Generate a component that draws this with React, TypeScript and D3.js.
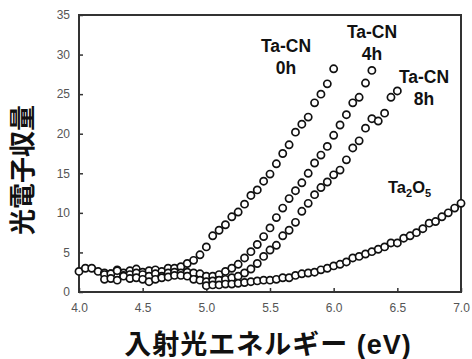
import React, { useEffect, useRef } from 'react';
import * as d3 from 'd3';

// [photon energy (eV), photoelectron yield]
const ta0h: [number, number][] = [
  [4.0, 2.6], [4.05, 3.0], [4.1, 3.0], [4.15, 2.6], [4.2, 2.4], [4.25, 2.3], [4.3, 2.8], [4.35, 2.4],
  [4.4, 2.7], [4.45, 2.9], [4.5, 2.5], [4.55, 2.7], [4.6, 2.8], [4.65, 2.6], [4.7, 3.0], [4.75, 3.0],
  [4.8, 3.2], [4.85, 3.6], [4.9, 4.0], [4.95, 4.7], [5.0, 5.7], [5.05, 7.1], [5.1, 7.8], [5.15, 8.5],
  [5.2, 9.5], [5.25, 10.1], [5.3, 11.1], [5.35, 12.2], [5.4, 12.9], [5.45, 14.0], [5.5, 14.9], [5.55, 16.2],
  [5.6, 17.5], [5.65, 18.6], [5.7, 20.2], [5.75, 21.2], [5.8, 22.1], [5.85, 23.9], [5.9, 25.0], [5.95, 26.3],
  [6.0, 28.2],
];

const ta4h: [number, number][] = [
  [4.2, 2.2], [4.25, 2.3], [4.3, 2.7], [4.35, 2.1], [4.4, 2.2], [4.45, 2.4], [4.5, 2.2], [4.55, 2.0],
  [4.6, 2.3], [4.65, 2.0], [4.7, 2.4], [4.75, 2.5], [4.8, 2.4], [4.85, 2.5], [4.9, 2.4], [4.95, 2.3],
  [5.0, 2.0], [5.05, 2.0], [5.1, 2.2], [5.15, 2.6], [5.2, 3.0], [5.25, 3.5], [5.3, 4.3], [5.35, 5.1],
  [5.4, 6.0], [5.45, 7.0], [5.5, 8.1], [5.55, 9.4], [5.6, 10.6], [5.65, 11.8], [5.7, 12.8], [5.75, 13.8],
  [5.8, 15.0], [5.85, 16.3], [5.9, 17.3], [5.95, 18.4], [6.0, 19.8], [6.05, 21.1], [6.1, 22.4], [6.15, 23.9],
  [6.2, 24.6], [6.25, 26.4], [6.3, 28.0],
];

const ta8h: [number, number][] = [
  [4.2, 1.6], [4.25, 1.7], [4.3, 1.5], [4.35, 2.0], [4.4, 1.7], [4.45, 1.8], [4.5, 1.6], [4.55, 1.3],
  [4.6, 1.6], [4.65, 1.8], [4.7, 1.9], [4.75, 2.1], [4.8, 2.1], [4.85, 2.0], [4.9, 1.6], [4.95, 1.5],
  [5.0, 1.3], [5.05, 1.4], [5.1, 1.5], [5.15, 1.6], [5.2, 1.8], [5.25, 2.0], [5.3, 2.4], [5.35, 2.9],
  [5.4, 3.6], [5.45, 4.5], [5.5, 5.3], [5.55, 5.9], [5.6, 7.1], [5.65, 7.8], [5.7, 8.8], [5.75, 10.2],
  [5.8, 11.2], [5.85, 12.3], [5.9, 13.2], [5.95, 13.9], [6.0, 14.8], [6.05, 15.4], [6.1, 16.7], [6.15, 18.2],
  [6.2, 19.1], [6.25, 20.7], [6.3, 21.9], [6.35, 21.6], [6.4, 22.6], [6.45, 24.6], [6.5, 25.4],
];

const ta2o5: [number, number][] = [
  [5.0, 0.8], [5.05, 0.9], [5.1, 0.9], [5.15, 1.0], [5.2, 1.0], [5.25, 1.1], [5.3, 1.2], [5.35, 1.3],
  [5.4, 1.4], [5.45, 1.5], [5.5, 1.5], [5.55, 1.6], [5.6, 1.8], [5.65, 1.8], [5.7, 2.1], [5.75, 2.3],
  [5.8, 2.4], [5.85, 2.5], [5.9, 2.8], [5.95, 3.0], [6.0, 3.3], [6.05, 3.5], [6.1, 3.8], [6.15, 4.3],
  [6.2, 4.5], [6.25, 4.8], [6.3, 5.1], [6.35, 5.4], [6.4, 5.7], [6.45, 6.2], [6.5, 6.2], [6.55, 6.8],
  [6.6, 7.1], [6.65, 7.5], [6.7, 8.0], [6.75, 8.7], [6.8, 8.9], [6.85, 9.5], [6.9, 10.0], [6.95, 10.6],
  [7.0, 11.2],
];

const xTicks = [4.0, 4.5, 5.0, 5.5, 6.0, 6.5, 7.0];
const yTicks = [0, 5, 10, 15, 20, 25, 30, 35];

const width = 472;
const height = 359;
const margin = { top: 15, right: 11, bottom: 67, left: 79 };

const App = () => {
  const ref = useRef<SVGSVGElement>(null);

  useEffect(() => {
    const svg = d3.select(ref.current);
    svg.selectAll('*').remove();

    const x = d3.scaleLinear().domain([4, 7]).range([margin.left, width - margin.right]);
    const y = d3.scaleLinear().domain([0, 35]).range([height - margin.bottom, margin.top]);

    const latin = 'Arial, "Liberation Sans", Helvetica, sans-serif';
    const cjk = '"Liberation Sans", Arial, "Noto Sans CJK JP", sans-serif';

    // x axis (inward ticks)
    svg.append('g')
      .attr('transform', `translate(0,${y(0)})`)
      .call(d3.axisBottom(x).tickValues(xTicks).tickFormat(d3.format('.1f')).tickSizeInner(-4).tickSizeOuter(0))
      .call(g => g.select('.domain').remove())
      .call(g => g.selectAll('line').attr('stroke', '#333').attr('stroke-width', 1.5))
      .call(g => g.selectAll('text').attr('y', 11).attr('dy', '0.71em')
        .attr('font-family', latin).attr('font-size', 12).attr('fill', '#555'));

    // y axis
    svg.append('g')
      .attr('transform', `translate(${x(4)},0)`)
      .call(d3.axisLeft(y).tickValues(yTicks).tickSizeInner(-4).tickSizeOuter(0).tickPadding(9))
      .call(g => g.select('.domain').remove())
      .call(g => g.selectAll('line').attr('stroke', '#333').attr('stroke-width', 1.5))
      .call(g => g.selectAll('text').attr('font-family', latin).attr('font-size', 12).attr('fill', '#555'));

    // frame
    svg.append('rect')
      .attr('x', x(4)).attr('y', y(35))
      .attr('width', x(7) - x(4)).attr('height', y(0) - y(35))
      .attr('fill', 'none').attr('stroke', '#333').attr('stroke-width', 2);

    const series = [ta0h, ta4h, ta8h, ta2o5];
    series.forEach(s => {
      svg.append('g')
        .selectAll('circle')
        .data(s)
        .join('circle')
        .attr('cx', d => x(d[0]))
        .attr('cy', d => y(d[1]))
        .attr('r', 3.6)
        .attr('fill', 'white')
        .attr('stroke', '#111')
        .attr('stroke-width', 1.7);
    });

    const label = (lines: string[], cx: number, cy: number) => {
      lines.forEach((t, i) => {
        svg.append('text')
          .attr('x', cx).attr('y', cy + i * 22)
          .attr('text-anchor', 'middle')
          .attr('font-family', latin).attr('font-weight', 'bold').attr('font-size', 17.5)
          .attr('fill', '#111')
          .text(t);
      });
    };
    label(['Ta-CN', '0h'], 286, 52);
    label(['Ta-CN', '4h'], 372, 38);
    label(['Ta-CN', '8h'], 424, 83);

    const t2 = svg.append('text')
      .attr('x', 388).attr('y', 193)
      .attr('font-family', latin).attr('font-weight', 'bold').attr('font-size', 16.5)
      .attr('fill', '#111');
    t2.append('tspan').text('Ta');
    t2.append('tspan').attr('font-size', 11).attr('dy', 4).text('2');
    t2.append('tspan').attr('font-size', 16.5).attr('dy', -4).text('O');
    t2.append('tspan').attr('font-size', 11).attr('dy', 4).text('5');

    // axis titles
    svg.append('text')
      .attr('x', 268).attr('y', 354)
      .attr('text-anchor', 'middle')
      .attr('font-family', cjk).attr('font-weight', 'bold').attr('font-size', 27)
      .attr('letter-spacing', 1)
      .attr('fill', '#111')
      .text('入射光エネルギー (eV)');

    svg.append('text')
      .attr('transform', `translate(32,170) rotate(-90)`)
      .attr('text-anchor', 'middle')
      .attr('font-family', cjk).attr('font-weight', 'bold').attr('font-size', 26)
      .attr('fill', '#111')
      .text('光電子収量');
  }, []);

  return (
    <svg
      ref={ref}
      width={width}
      height={height}
      style={{ position: 'absolute', left: 0, top: 0, background: 'white' }}
    />
  );
};

export default App;
